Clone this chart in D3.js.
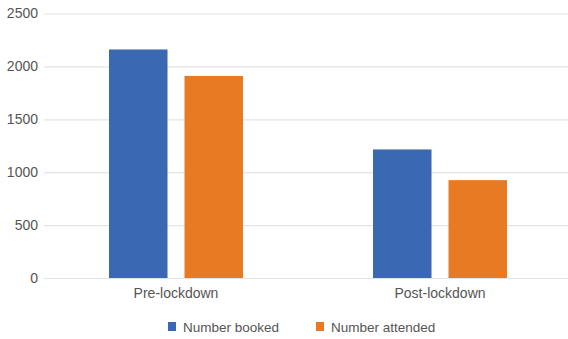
<!DOCTYPE html>
<html><head><meta charset="utf-8">
<script src="https://cdn.jsdelivr.net/npm/d3@7"></script>
<style>
html,body{margin:0;padding:0;background:#fff;}
svg{display:block;font-family:"Liberation Sans",Arial,Helvetica,sans-serif;}
</style></head>
<body>
<svg id="chart" width="568" height="339"></svg>
<script>
const categories = ["Pre-lockdown", "Post-lockdown"];
const seriesNames = ["Number booked", "Number attended"];
const numberBooked = [2160, 1215];
const numberAttended = [1910, 925];
const yTicks = [0, 500, 1000, 1500, 2000, 2500];
const colors = ["#3b68b3", "#e97a24"];

const svg = d3.select("#chart");
const x0 = d3.scaleBand().domain(categories).range([44, 572]).padding(0);
const x1 = d3.scaleBand().domain(seriesNames).range([65, 199]).paddingInner(0.225).paddingOuter(0);
const y = d3.scaleLinear().domain([0, 2500]).range([278, 13.5]);

const yAxis = d3.axisLeft(y).tickValues(yTicks).tickSize(-524).tickFormat(d3.format("d"));
const gy = svg.append("g").attr("transform", "translate(44,0)").call(yAxis);
gy.select(".domain").remove();
gy.selectAll(".tick line").attr("stroke", "#e4e4e4").attr("stroke-width", 1.2);
gy.selectAll(".tick text").attr("x", -6).attr("fill", "#555").attr("font-size", 14).attr("font-family", "Liberation Sans, Arial, sans-serif");

const data = categories.map((c, i) => ({cat: c, vals: [numberBooked[i], numberAttended[i]]}));
const groups = svg.append("g").selectAll("g").data(data).join("g")
  .attr("transform", d => `translate(${x0(d.cat)},0)`);
groups.selectAll("rect").data(d => d.vals.map((v, j) => ({name: seriesNames[j], v, j})))
  .join("rect")
  .attr("x", d => x1(d.name))
  .attr("width", x1.bandwidth())
  .attr("y", d => y(d.v))
  .attr("height", d => y(0) - y(d.v))
  .attr("fill", d => colors[d.j]);

const xAxis = d3.axisBottom(x0).tickSize(0);
const gx = svg.append("g").attr("transform", "translate(0,278)").call(xAxis);
gx.select(".domain").remove();
gx.selectAll(".tick text").attr("dy", "0").attr("y", 20).attr("fill", "#555").attr("font-size", 14).attr("font-family", "Liberation Sans, Arial, sans-serif");

const legend = svg.append("g");
const legendX = [168, 316];
seriesNames.forEach((n, i) => {
  legend.append("rect").attr("x", legendX[i]).attr("y", 322).attr("width", 8).attr("height", 9).attr("fill", colors[i]);
  legend.append("text").attr("x", legendX[i] + 15).attr("y", 332).attr("font-size", 13.5).attr("fill", "#555").text(n);
});
</script>
</body></html>
